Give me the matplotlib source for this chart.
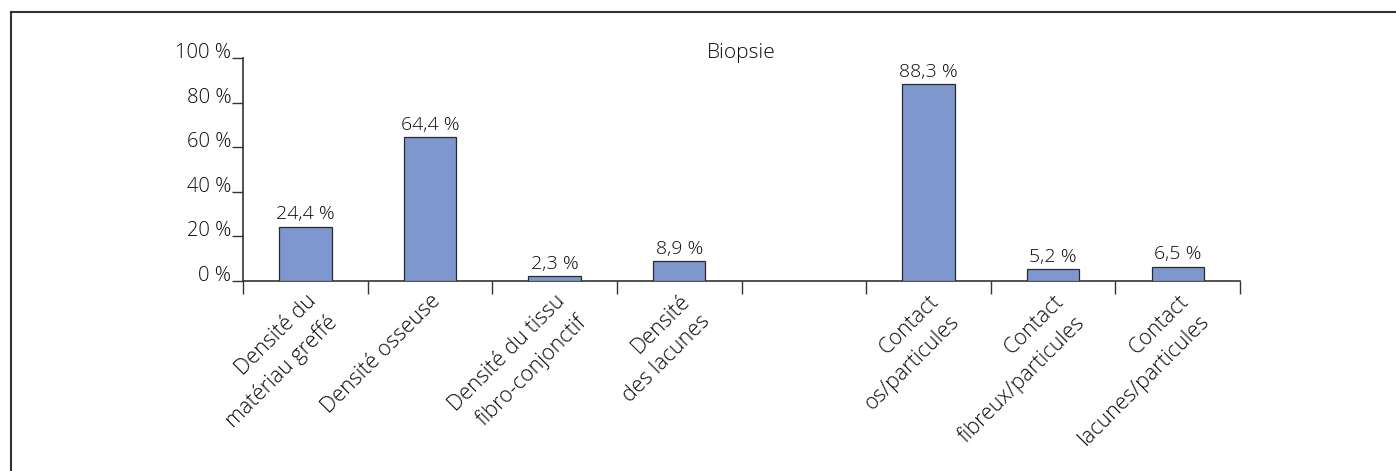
import matplotlib

matplotlib.use("Agg")
import matplotlib.pyplot as plt
from matplotlib.lines import Line2D
from matplotlib.ticker import FixedLocator

plt.rcParams["font.family"] = ["Open Sans", "DejaVu Sans"]
plt.rcParams["font.weight"] = "light"

# --- Data ---
categories = [
    "Densité du\nmatériau greffé",
    "Densité osseuse",
    "Densité du tissu\nfibro-conjonctif",
    "Densité\ndes lacunes",
    "",
    "Contact\nos/particules",
    "Contact\nfibreux/particules",
    "Contact\nlacunes/particules",
]
values = [24.4, 64.4, 2.3, 8.9, None, 88.3, 5.2, 6.5]
yticks = [0, 20, 40, 60, 80, 100]
title = "Biopsie"

bar_color = "#7f97cf"
line_color = "#333333"
text_color = "#0a0a0a"

fig = plt.figure(figsize=(13.96, 4.71), dpi=100)
ax = fig.add_axes([0.1741, 0.4034, 0.7142, 0.4735])

xs = [i for i, v in enumerate(values) if v is not None]
vs = [v for v in values if v is not None]
ax.bar(xs, vs, width=0.42, color=bar_color, edgecolor="#2a2a2a", linewidth=0.9, zorder=3)
for x, v in zip(xs, vs):
    ax.text(x, v + 1.5, f"{v:.1f} %".replace(".", ","), ha="center", va="bottom",
            fontsize=14, color=text_color)

ax.set_xlim(-0.5, len(categories) - 0.5)
ax.set_ylim(0, 100)

# y axis: label baseline sits on the tick
ax.set_yticks(yticks)
ax.set_yticklabels([f"{t} %" for t in yticks], fontsize=14.5, color=text_color)
for lab in ax.get_yticklabels():
    lab.set_verticalalignment("baseline")
ax.tick_params(axis="y", direction="out", length=8, width=1, color=line_color, pad=0.5)

# x axis: labels at centres, tick marks at boundaries
ax.set_xticks(range(len(categories)))
ax.set_xticklabels(categories, rotation=45, ha="right", rotation_mode="anchor",
                   fontsize=15.5, color=text_color, multialignment="right",
                   linespacing=1.5)
ax.tick_params(axis="x", which="major", length=0, pad=7)
ax.xaxis.set_minor_locator(FixedLocator([i - 0.5 for i in range(len(categories) + 1)]))
ax.tick_params(axis="x", which="minor", direction="out", length=9, width=1, color=line_color)

for side in ["top", "right"]:
    ax.spines[side].set_visible(False)
for side in ["left", "bottom"]:
    ax.spines[side].set_color(line_color)
    ax.spines[side].set_linewidth(1.2)

ax.text(0.5, 100, title, transform=ax.get_yaxis_transform(), ha="center", va="baseline",
        fontsize=15, color=text_color)

# outer frame (open at right and bottom)
fig.add_artist(Line2D([0.0079, 0.0079], [0, 0.9745], transform=fig.transFigure,
                      color=line_color, linewidth=1.5))
fig.add_artist(Line2D([0.0079, 1], [0.9745, 0.9745], transform=fig.transFigure,
                      color=line_color, linewidth=1.5))

fig.savefig("out.png", dpi=100)
